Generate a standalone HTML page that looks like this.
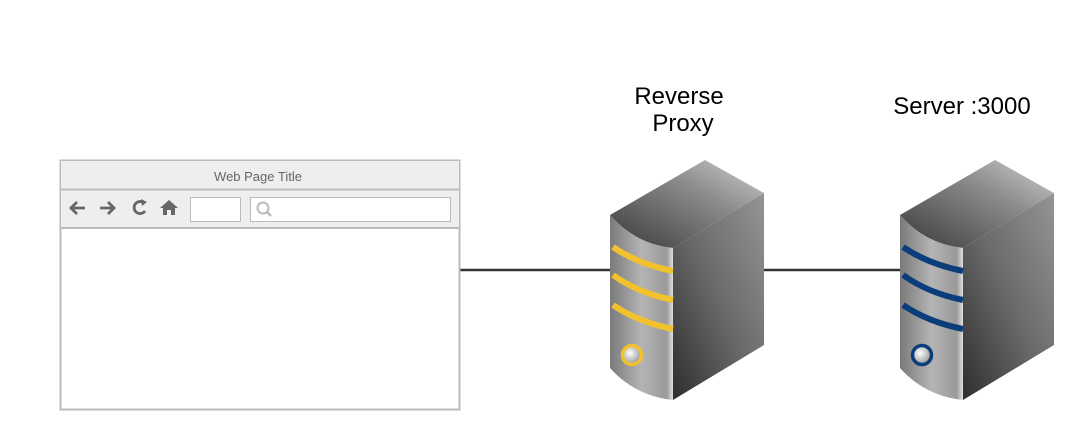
<!DOCTYPE html>
<html><head><style>
body{margin:0;background:#fff;}
svg{display:block;}
</style></head><body>
<svg width="1074" height="430" viewBox="0 0 1074 430" xmlns="http://www.w3.org/2000/svg">
<defs>
<linearGradient id="front" x1="0" y1="0" x2="1" y2="0">
<stop offset="0" stop-color="#7a7a7a"/><stop offset="0.5" stop-color="#b4b4b4"/><stop offset="0.9" stop-color="#9a9a9a"/><stop offset="1" stop-color="#e0e0e0"/>
</linearGradient>
<linearGradient id="side" x1="0" y1="1" x2="1" y2="0">
<stop offset="0" stop-color="#2e2e2e"/><stop offset="0.5" stop-color="#6a6a6a"/><stop offset="1" stop-color="#959595"/>
</linearGradient>
<linearGradient id="top" x1="0" y1="1" x2="1" y2="0">
<stop offset="0" stop-color="#3a3a3a"/><stop offset="0.6" stop-color="#8a8a8a"/><stop offset="1" stop-color="#d0d0d0"/>
</linearGradient>
<radialGradient id="btn" cx="0.4" cy="0.4" r="0.6">
<stop offset="0" stop-color="#fff"/><stop offset="1" stop-color="#999"/>
</radialGradient>
<g id="srv">
<path d="M0,55 L95,0 L154,33 L63,88 Q25,84 0,55 Z" fill="url(#top)"/>
<path d="M63,88 L154,33 L154,185 L63,240 Z" fill="url(#side)"/>
<path d="M0,55 Q25,84 63,88 L63,240 Q25,236 0,208 Z" fill="url(#front)"/>
</g>
</defs>

<line x1="459" y1="270" x2="612" y2="270" stroke="#333" stroke-width="2.5"/>
<line x1="762" y1="270" x2="902" y2="270" stroke="#333" stroke-width="2.5"/>

<!-- browser -->
<rect x="60.5" y="160.5" width="399" height="249" fill="#fff" stroke="#bbb" stroke-width="2"/>
<rect x="61" y="161" width="398" height="67" fill="#eee"/>
<line x1="60" y1="189.5" x2="460" y2="189.5" stroke="#bbb" stroke-width="2"/>
<line x1="60" y1="228" x2="460" y2="228" stroke="#bbb" stroke-width="2"/>
<text x="258" y="181" font-family="Liberation Sans, sans-serif" font-size="13" fill="#666" text-anchor="middle">Web Page Title</text>
<g fill="none" stroke="#666" stroke-width="2.8" stroke-linecap="butt">
<path d="M85,208 H71 M77,202 L71,208 L77,214"/>
<path d="M100,208 H114 M108,202 L114,208 L108,214"/>
<path d="M144,203 A6,6 0 1 0 145,211"/>
</g>
<path d="M141,199 L147,202 L142,206 Z" fill="#666"/>
<path d="M160,208 L169,200 L178,208 H175 V215 H171 V210 H167 V215 H163 V208 Z" fill="#666"/>
<rect x="190.5" y="197.5" width="50" height="24" fill="#fff" stroke="#bbb"/>
<rect x="250.5" y="197.5" width="200" height="24" fill="#fff" stroke="#bbb"/>
<circle cx="263" cy="208" r="5.5" fill="none" stroke="#bbb" stroke-width="2"/>
<line x1="267" y1="212" x2="271" y2="216" stroke="#bbb" stroke-width="2.5"/>

<!-- proxy -->
<g transform="translate(610,160)">
<use href="#srv"/>
<g fill="none" stroke="#f2c12e" stroke-width="6">
<path d="M3,87 Q28,104 63,111"/>
<path d="M3,115 Q28,133 63,140"/>
<path d="M3,145 Q28,162 63,169"/>
</g>
<circle cx="22" cy="195" r="9.5" fill="url(#btn)" stroke="#f2c12e" stroke-width="3.5"/>
</g>
<!-- server -->
<g transform="translate(900,160)">
<use href="#srv"/>
<g fill="none" stroke="#0b3d7a" stroke-width="6">
<path d="M3,87 Q28,104 63,111"/>
<path d="M3,115 Q28,133 63,140"/>
<path d="M3,145 Q28,162 63,169"/>
</g>
<circle cx="22" cy="195" r="9.5" fill="url(#btn)" stroke="#0b3d7a" stroke-width="3.5"/>
</g>

<g font-family="Liberation Sans, sans-serif" font-size="24" fill="#000" text-anchor="middle">
<text x="679" y="104">Reverse</text>
<text x="683" y="131">Proxy</text>
<text x="962" y="114">Server :3000</text>
</g>
</svg>
</body></html>
